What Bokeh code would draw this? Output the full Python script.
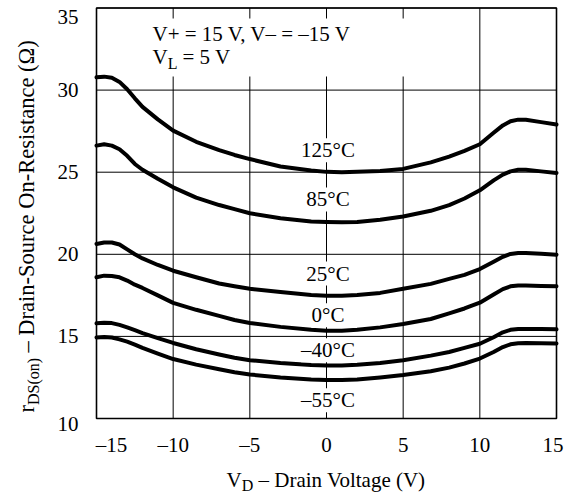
import math
from bokeh.plotting import figure
from bokeh.models import Label, BoxAnnotation
from bokeh.embed import file_html
from bokeh.resources import INLINE

# ---- data ----
vd = [-15, -14.5, -14, -13.5, -13, -12.5, -12, -11, -10, -8.5, -7, -6, -5, -3, -1,
      0, 1, 2, 3.5, 5, 6.8, 8, 9, 10, 10.9, 11.5, 12, 12.5, 13, 14, 15]
r_125 = [30.78, 30.82, 30.75, 30.5, 30.05, 29.5, 28.98, 28.22, 27.53, 26.85, 26.35, 26.05, 25.8, 25.35, 25.1,
         25.02, 25.0, 25.02, 25.08, 25.2, 25.6, 25.95, 26.3, 26.7, 27.4, 27.85, 28.1, 28.2, 28.2, 28.05, 27.9]
r_85 = [26.62, 26.7, 26.62, 26.4, 26.0, 25.5, 25.15, 24.6, 24.08, 23.45, 23.0, 22.75, 22.5, 22.2, 22.0,
        21.97, 21.95, 21.97, 22.1, 22.3, 22.65, 23.0, 23.4, 23.9, 24.5, 24.85, 25.05, 25.15, 25.15, 25.05, 24.95]
r_25 = [20.63, 20.72, 20.72, 20.6, 20.3, 20.0, 19.75, 19.35, 19.0, 18.6, 18.22, 18.05, 17.9, 17.7, 17.52,
        17.48, 17.48, 17.52, 17.65, 17.9, 18.2, 18.5, 18.75, 19.1, 19.55, 19.85, 20.02, 20.08, 20.08, 20.03, 19.98]
r_0 = [18.6, 18.7, 18.68, 18.6, 18.4, 18.15, 17.95, 17.5, 17.04, 16.62, 16.25, 16.0, 15.82, 15.58, 15.4,
       15.35, 15.35, 15.4, 15.55, 15.75, 16.06, 16.4, 16.7, 17.05, 17.55, 17.88, 18.05, 18.1, 18.1, 18.07, 18.05]
r_m40 = [15.8, 15.83, 15.81, 15.7, 15.55, 15.38, 15.2, 14.9, 14.6, 14.22, 13.9, 13.7, 13.55, 13.38, 13.26,
         13.23, 13.23, 13.27, 13.38, 13.55, 13.83, 14.05, 14.3, 14.55, 14.95, 15.25, 15.4, 15.45, 15.45, 15.45, 15.43]
r_m55 = [14.94, 14.96, 14.93, 14.82, 14.68, 14.5, 14.3, 13.95, 13.62, 13.28, 13.0, 12.82, 12.68, 12.5, 12.38,
         12.35, 12.35, 12.38, 12.5, 12.65, 12.88, 13.1, 13.35, 13.65, 14.05, 14.35, 14.52, 14.58, 14.6, 14.58, 14.57]
series = [r_125, r_85, r_25, r_0, r_m40, r_m55]
series_labels = ["125°C", "85°C", "25°C", "0°C", "–40°C", "–55°C"]
series_label_y = [26.34, 23.34, 18.83, 16.29, 14.16, 11.11]
x_ticks = [-15, -10, -5, 0, 5, 10, 15]
y_ticks = [10, 15, 20, 25, 30, 35]
note_line1 = "V+ = 15 V, V– = –15 V"
note_line2 = ["V", "L", "= 5 V"]
x_title = ["V", "D", "– Drain Voltage (V)"]
y_title = ["r", "DS(on)", "– Drain-Source On-Resistance (Ω)"]

# ---- layout (pixels of the picture) ----
W, H = 564, 495
PL, PR, PT, PB = 96, 556, 7.5, 418          # plotting box
X0, X1, Y0, Y1 = x_ticks[0], x_ticks[-1], y_ticks[0], y_ticks[-1]
SX = (PR - PL) / (X1 - X0)
SY = (PB - PT) / (Y1 - Y0)
XS, XE = X0 - PL / SX, X1 + (W - PR) / SX
YE, YS = Y1 + PT / SY, Y0 - (H - PB) / SY
FONT = "Liberation Serif"


def dx(px):
    return XS + px / SX


def dy(py):
    return YE - py / SY


p = figure(width=W, height=H, x_range=(XS, XE), y_range=(YS, YE),
           output_backend="svg", toolbar_location=None,
           x_axis_location=None, y_axis_location=None,
           min_border=0)
p.background_fill_color = "white"
p.border_fill_color = "white"
p.outline_line_color = None
p.grid.visible = False

# grid lines (through the data scales)
p.segment(x0=x_ticks, y0=[Y0] * len(x_ticks), x1=x_ticks, y1=[Y1] * len(x_ticks),
          line_color="black", line_width=1)
p.segment(x0=[X0] * len(y_ticks), y0=y_ticks, x1=[X1] * len(y_ticks), y1=y_ticks,
          line_color="black", line_width=1)

# curves
for s in series:
    p.line(vd, s, line_color="black", line_width=4, line_cap="round", line_join="round")

# frame
p.quad(left=[X0], right=[X1], bottom=[Y0], top=[Y1], fill_color=None,
       line_color="black", line_width=1.6)

# white box behind the condition note (breaks the grid lines)
p.add_layout(BoxAnnotation(left=dx(140), right=dx(409), top=dy(18), bottom=dy(76),
                           fill_color="white", fill_alpha=1.0, line_color=None))


def text(t, px=None, py=None, size=21, align="left", angle=0.0, x=None, y=None,
         bg=False, xo=0, yo=0):
    kw = {}
    if bg:
        kw = dict(background_fill_color="white", background_fill_alpha=1.0, padding=0)
    p.add_layout(Label(x=x if x is not None else dx(px), y=y if y is not None else dy(py),
                       text=t, text_font=FONT, text_font_size=f"{size}px",
                       text_align=align, text_baseline="middle", angle=angle,
                       text_color="black", x_offset=xo, y_offset=yo, **kw))


# curve labels
for lab, ly in zip(series_labels, series_label_y):
    text(lab, x=0.1, y=ly, align="center", bg=True)

# condition note
text(note_line1, 152, 33.7)
text(note_line2[0], 152, 56)
text(note_line2[1], 167.2, 63, size=16)
text(note_line2[2], 182, 56)

# tick labels
for t in y_ticks:
    yo = -9 if t == Y1 else (-5 if t == Y0 else 0)
    text(str(t), x=dx(78), y=t, align="right", yo=yo)
for t in x_ticks:
    xo = 15 if t == X0 else (-3.5 if t == X1 else 0)
    text(str(t).replace("-", "–"), x=t, py=444, align="center", xo=xo)

# x title
text(x_title[0], 226, 479.7)
text(x_title[1], 241.2, 484.7, size=16)
text(x_title[2], 258, 479.7)

# y title (rotated)
A = math.pi / 2
text(y_title[0], 25.7, 412, size=22.5, angle=A)
text(y_title[1], 33.2, 404.5, size=16, angle=A)
text(y_title[2], 25.7, 352, size=22.5, angle=A)

open("out.html", "w").write(file_html(p, INLINE))
